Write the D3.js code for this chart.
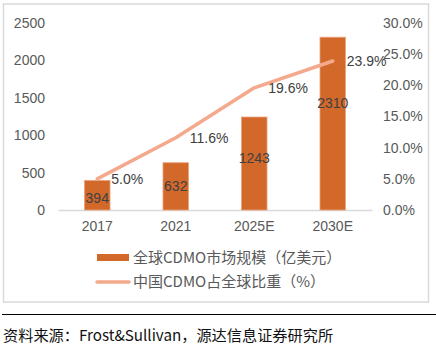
<!DOCTYPE html>
<html>
<head>
<meta charset="utf-8">
<script src="https://cdn.jsdelivr.net/npm/d3@7"></script>
<style>
  body { margin: 0; background: #fff; }
  svg { display: block; }
  text { font-family: "Liberation Sans", Arial, "Noto Sans CJK SC", sans-serif; }
</style>
</head>
<body>
<div id="chart"></div>
<script>
// ── Data ──────────────────────────────────────────────────────────────────
const years      = ['2017', '2021', '2025E', '2030E'];
const marketSize = [394, 632, 1243, 2310];          // 亿美元
const chinaShare = [5.0, 11.6, 19.6, 23.9];         // %
const leftTicks  = [0, 500, 1000, 1500, 2000, 2500];
const rightTicks = [0, 5, 10, 15, 20, 25, 30];

const barName  = '全球CDMO市场规模（亿美元）';
const lineName = '中国CDMO占全球比重（%）';
const source   = '资料来源：Frost&Sullivan，源达信息证券研究所';

// ── Layout ────────────────────────────────────────────────────────────────
const W = 436, H = 350;
const M = { top: 23, left: 58, right: 372, bottom: 210 };
const BAR = '#d2692b', LINE = '#f4a98c', TXT = '#595959', LBL = '#404040';
const CJK = '"Noto Sans CJK SC", sans-serif';

const svg = d3.select('#chart').append('svg').attr('width', W).attr('height', H);

// chart frame
svg.append('rect')
  .attr('x', 3.5).attr('y', 4).attr('width', 425).attr('height', 298)
  .attr('fill', 'none').attr('stroke', '#d9d9d9').attr('stroke-width', 1.5);

const x  = d3.scaleBand().domain(years).range([M.left, M.right]).paddingInner(0).paddingOuter(0);
const yL = d3.scaleLinear().domain([0, 2500]).range([M.bottom, M.top]);
const yR = d3.scaleLinear().domain([0, 30]).range([M.bottom, M.top]);
const cx = d => x(d) + x.bandwidth() / 2;
const barW = x.bandwidth() * 0.325;

// ── Axes ──────────────────────────────────────────────────────────────────
svg.append('g').attr('transform', `translate(${M.left - 13},0)`)
  .call(d3.axisLeft(yL).tickValues(leftTicks).tickSize(0).tickPadding(0).tickFormat(d3.format('d')))
  .call(a => a.select('.domain').remove())
  .call(a => a.selectAll('text').attr('fill', TXT).attr('font-size', 14));

svg.append('g').attr('transform', `translate(${M.right + 11},0)`)
  .call(d3.axisRight(yR).tickValues(rightTicks).tickSize(0).tickPadding(0)
    .tickFormat(d => d3.format('.1f')(d) + '%'))
  .call(a => a.select('.domain').remove())
  .call(a => a.selectAll('text').attr('fill', TXT).attr('font-size', 14));

svg.append('g').attr('transform', `translate(0,${M.bottom})`)
  .call(d3.axisBottom(x).tickSize(0).tickPadding(11))
  .call(a => a.select('.domain').attr('stroke', '#d9d9d9').attr('stroke-width', 1.5))
  .call(a => a.selectAll('text').attr('fill', TXT).attr('font-size', 14));

// ── Bars ──────────────────────────────────────────────────────────────────
svg.append('g').selectAll('rect')
  .data(years)
  .join('rect')
  .attr('x', d => cx(d) - barW / 2)
  .attr('y', (d, i) => yL(marketSize[i]))
  .attr('width', barW)
  .attr('height', (d, i) => M.bottom - yL(marketSize[i]))
  .attr('fill', BAR).attr('stroke', '#eba27a').attr('stroke-width', 0.8);

// ── Line ──────────────────────────────────────────────────────────────────
const line = d3.line()
  .x((d, i) => cx(years[i]))
  .y(d => yR(d));

svg.append('path')
  .datum(chinaShare)
  .attr('d', line)
  .attr('fill', 'none').attr('stroke', LINE)
  .attr('stroke-width', 3.5).attr('stroke-linecap', 'round').attr('stroke-linejoin', 'round');

// bar value labels (sit slightly above centre on the taller bars)
const labelLift = [-3, 0, 5, 21];
svg.append('g').selectAll('text')
  .data(years)
  .join('text')
  .attr('x', d => cx(d))
  .attr('y', (d, i) => (yL(marketSize[i]) + M.bottom) / 2 - labelLift[i])
  .attr('dy', '0.35em').attr('text-anchor', 'middle')
  .attr('fill', LBL).attr('font-size', 14)
  .text((d, i) => marketSize[i]);

// share labels, right of each point
svg.append('g').selectAll('text')
  .data(years)
  .join('text')
  .attr('x', d => cx(d) + 14)
  .attr('y', (d, i) => yR(chinaShare[i]))
  .attr('dy', '0.35em')
  .attr('fill', LBL).attr('font-size', 14)
  .text((d, i) => d3.format('.1f')(chinaShare[i]) + '%');

// ── Legend ────────────────────────────────────────────────────────────────
const lg = svg.append('g');
lg.append('rect').attr('x', 97).attr('y', 254).attr('width', 32).attr('height', 7).attr('fill', BAR);
lg.append('text').attr('x', 133).attr('y', 257.5).attr('dy', '0.35em')
  .attr('fill', TXT).attr('font-size', 15).style('font-family', CJK).text(barName);
lg.append('line').attr('x1', 97).attr('x2', 129).attr('y1', 282).attr('y2', 282)
  .attr('stroke', LINE).attr('stroke-width', 3.5).attr('stroke-linecap', 'round');
lg.append('text').attr('x', 133).attr('y', 282).attr('dy', '0.35em')
  .attr('fill', TXT).attr('font-size', 15).style('font-family', CJK).text(lineName);

// ── Source ────────────────────────────────────────────────────────────────
svg.append('line').attr('x1', 2).attr('x2', 436).attr('y1', 314.5).attr('y2', 314.5)
  .attr('stroke', '#000').attr('stroke-width', 1.2);
svg.append('text').attr('x', 3).attr('y', 336).attr('dy', '0.35em')
  .attr('fill', '#111').attr('font-size', 15.2).style('font-family', CJK).text(source);
</script>
</body>
</html>
